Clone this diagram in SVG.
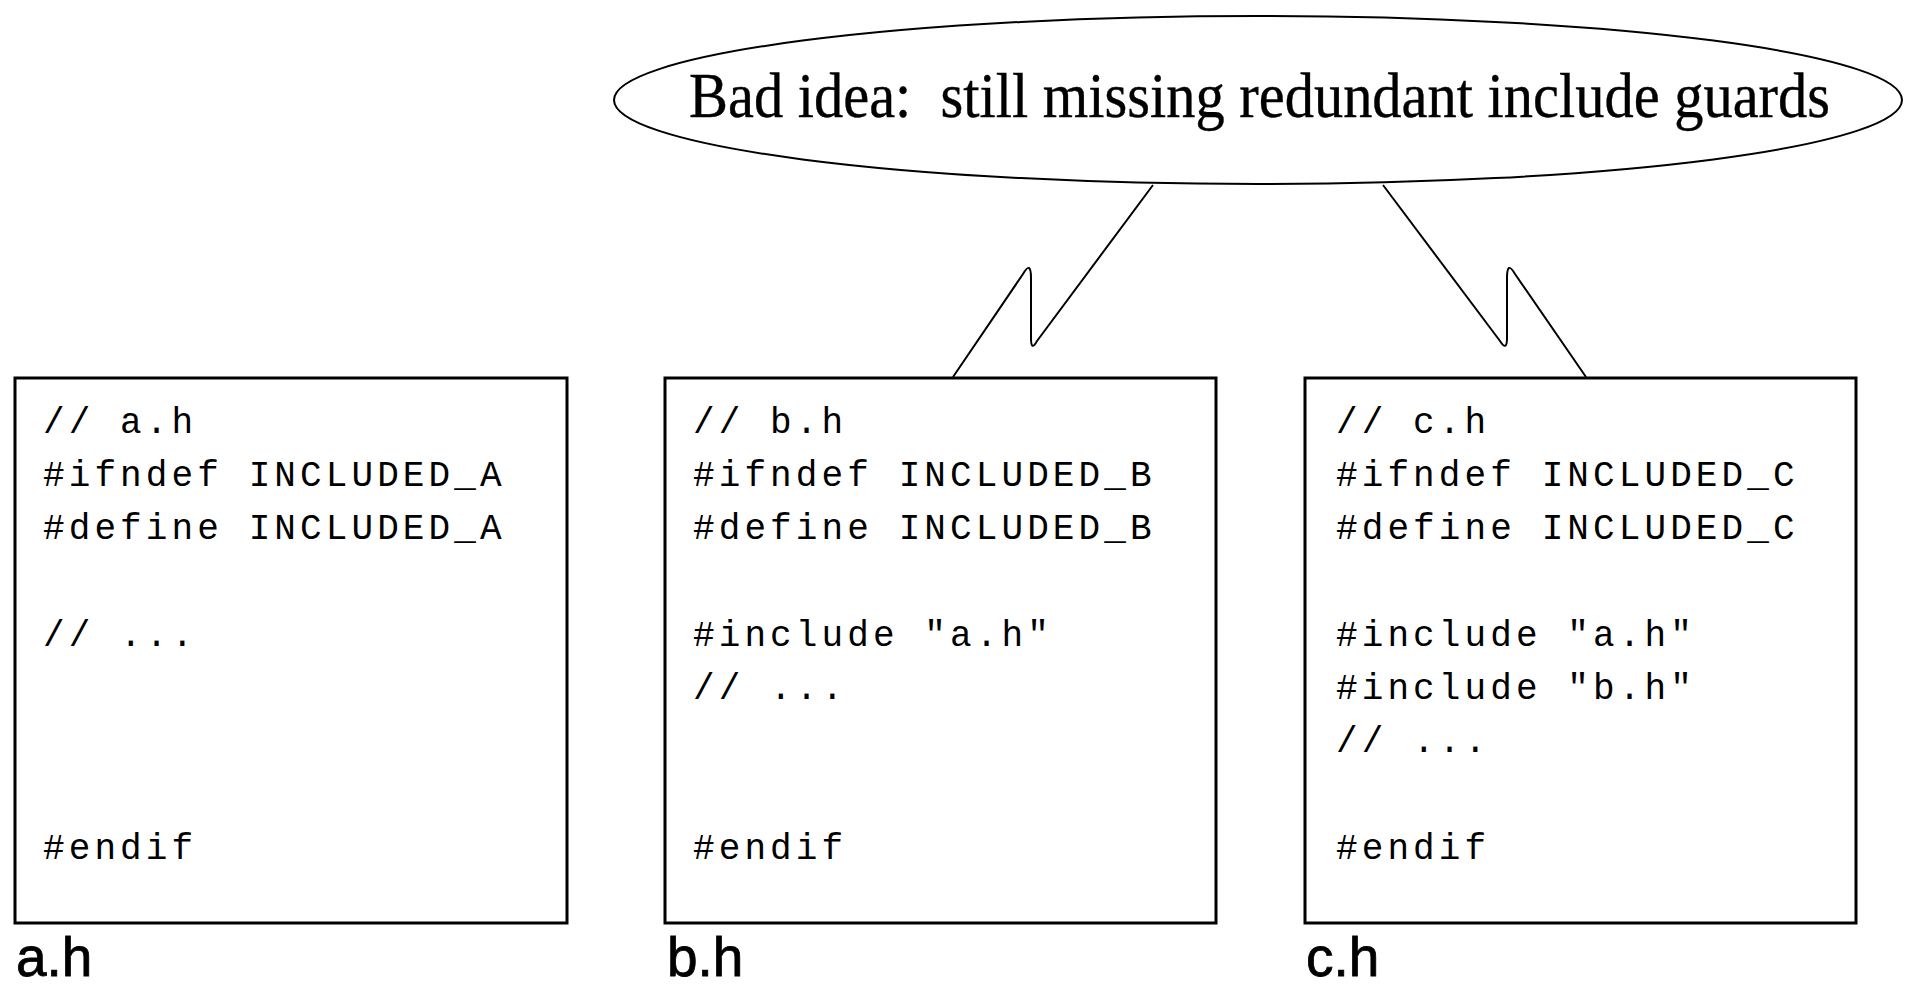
<svg xmlns="http://www.w3.org/2000/svg" width="1914" height="985" viewBox="0 0 1914 985">
<style>
.box{fill:#fff;stroke:#000;stroke-width:3}
.code{font-family:"Liberation Mono",monospace;font-size:36px;letter-spacing:4.1px;fill:#000;white-space:pre}
.lbl{font-family:"Liberation Sans",Arial,sans-serif;font-size:55px;fill:#000;stroke:#000;stroke-width:0.8}
.conn{fill:none;stroke:#000;stroke-width:2;stroke-linejoin:round}
.note{font-family:"Liberation Serif","Times New Roman",serif;font-size:64px;fill:#000;stroke:#000;stroke-width:0.4;white-space:pre}
</style>
<rect width="1914" height="985" fill="#fff"/>
<g id="note">
<ellipse cx="1258" cy="100" rx="644" ry="84" fill="#fff" stroke="#000" stroke-width="2"/>
<text class="note" x="689" y="117" textLength="1141" lengthAdjust="spacingAndGlyphs">Bad idea:  still missing redundant include guards</text>
</g>
<g id="connectors">
<path class="conn" d="M1153,185 L1037,341 Q1031,352 1031,338 L1031,278 Q1031,260 1023,274 L953,377"/>
<path class="conn" d="M1383,185 L1500,341 Q1507,352 1507,338 L1507,278 Q1507,260 1515,274 L1586,377"/>
</g>
<g id="a_h">
<rect class="box" x="15" y="378" width="552" height="545"/>
<text class="code" x="43" y="432.5">// a.h</text>
<text class="code" x="43" y="485.8">#ifndef INCLUDED_A</text>
<text class="code" x="43" y="539.1">#define INCLUDED_A</text>
<text class="code" x="43" y="645.7">// ...</text>
<text class="code" x="43" y="858.9">#endif</text>
<text class="lbl" x="16" y="976">a.h</text>
</g>
<g id="b_h">
<rect class="box" x="665" y="378" width="551" height="545"/>
<text class="code" x="693" y="432.5">// b.h</text>
<text class="code" x="693" y="485.8">#ifndef INCLUDED_B</text>
<text class="code" x="693" y="539.1">#define INCLUDED_B</text>
<text class="code" x="693" y="645.7">#include "a.h"</text>
<text class="code" x="693" y="699">// ...</text>
<text class="code" x="693" y="858.9">#endif</text>
<text class="lbl" x="667" y="976">b.h</text>
</g>
<g id="c_h">
<rect class="box" x="1305" y="378" width="551" height="545"/>
<text class="code" x="1336" y="432.5">// c.h</text>
<text class="code" x="1336" y="485.8">#ifndef INCLUDED_C</text>
<text class="code" x="1336" y="539.1">#define INCLUDED_C</text>
<text class="code" x="1336" y="645.7">#include "a.h"</text>
<text class="code" x="1336" y="699">#include "b.h"</text>
<text class="code" x="1336" y="752.3">// ...</text>
<text class="code" x="1336" y="858.9">#endif</text>
<text class="lbl" x="1306" y="976">c.h</text>
</g>
</svg>
